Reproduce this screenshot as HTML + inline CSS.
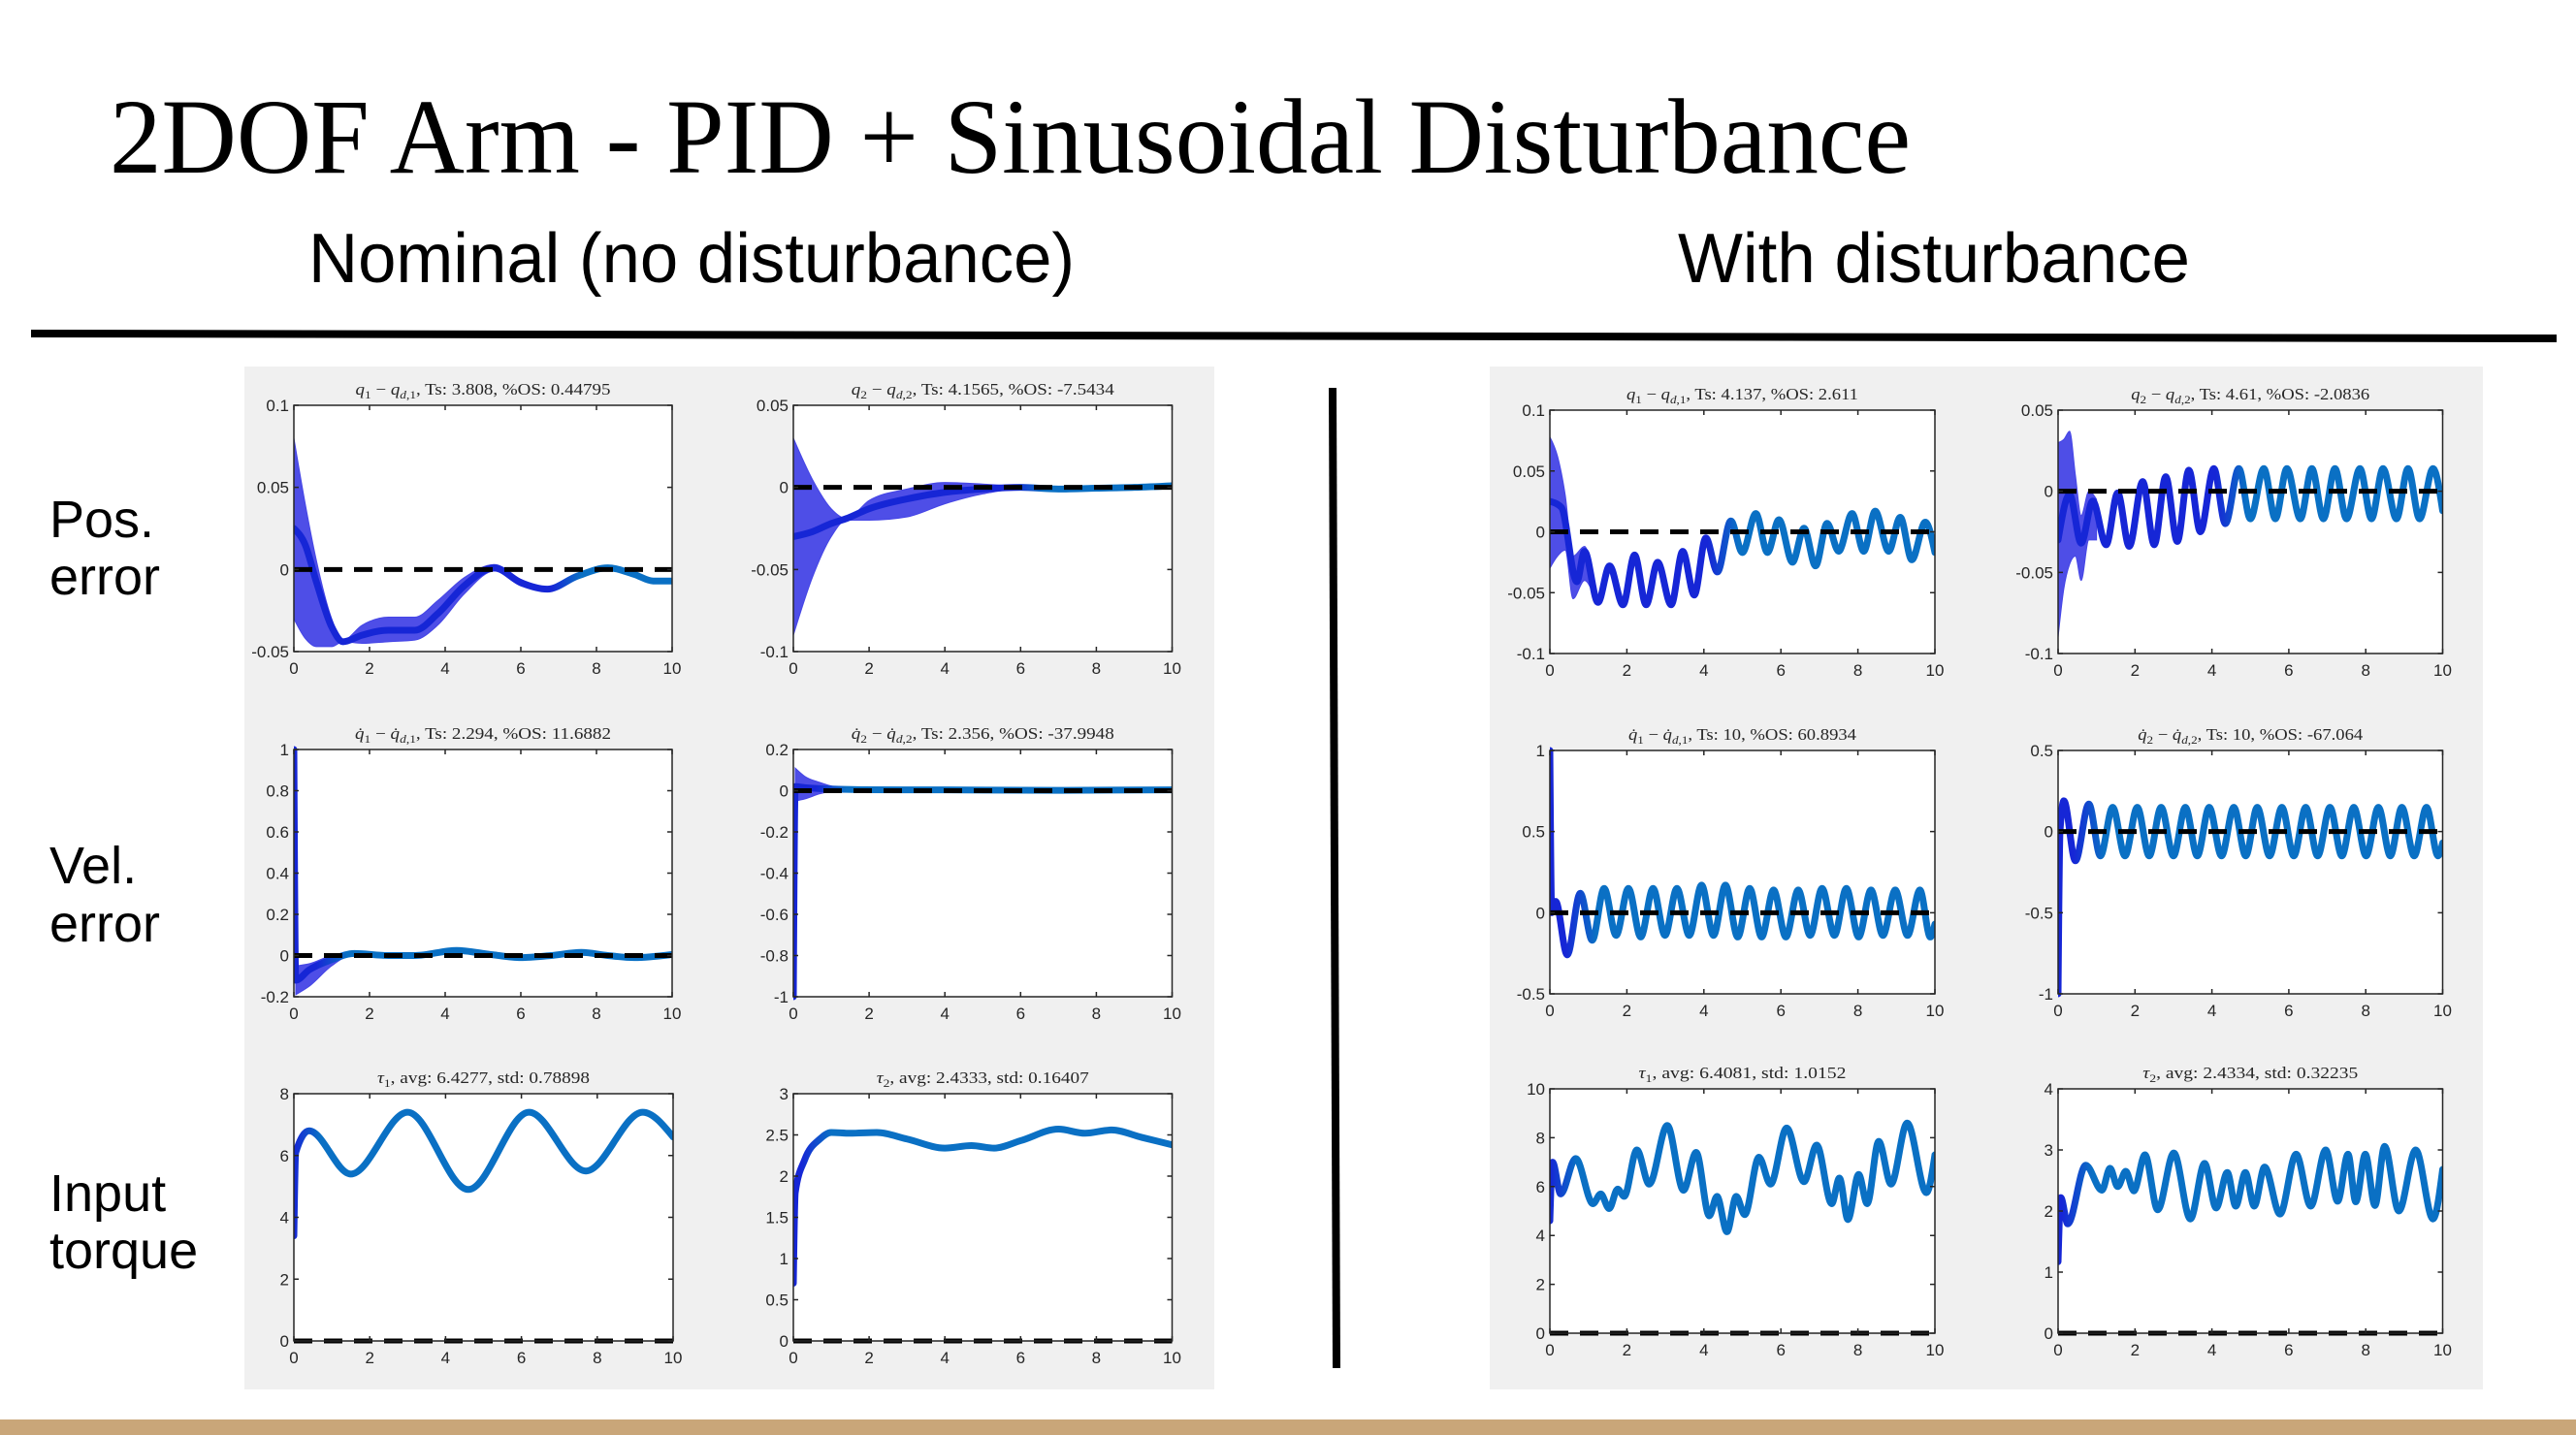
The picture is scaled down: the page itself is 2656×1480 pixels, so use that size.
<!DOCTYPE html>
<html><head><meta charset="utf-8">
<style>
html,body{margin:0;padding:0;background:#fff;}
svg{display:block;}
</style></head>
<body>
<svg id="page" width="2656" height="1480" viewBox="0 0 2656 1480">
  <rect x="0" y="0" width="2656" height="1480" fill="#ffffff"/>
  <text x="113" y="178" font-family="Liberation Serif, serif" font-size="110" fill="#000" textLength="1857" lengthAdjust="spacingAndGlyphs">2DOF Arm - PID + Sinusoidal Disturbance</text>
  <text x="318" y="291" font-family="Liberation Sans, sans-serif" font-size="72" fill="#000" textLength="790" lengthAdjust="spacingAndGlyphs">Nominal (no disturbance)</text>
  <text x="1730" y="291" font-family="Liberation Sans, sans-serif" font-size="72" fill="#000" textLength="528" lengthAdjust="spacingAndGlyphs">With disturbance</text>
  <polygon points="32,340 2636,345 2636,353 32,348" fill="#000"/>
  <polygon points="1370,400 1378,400 1382,1411 1374,1411" fill="#000"/>
  <rect x="0" y="1464" width="2656" height="16" fill="#c9a679"/>
  <g font-family="Liberation Sans, sans-serif" font-size="54" fill="#000">
    <text x="51" y="554">Pos.</text>
    <text x="51" y="613">error</text>
    <text x="51" y="911">Vel.</text>
    <text x="51" y="971">error</text>
    <text x="51" y="1249">Input</text>
    <text x="51" y="1308">torque</text>
  </g>
  <rect x="252" y="378" width="1000" height="1055" fill="#f0f0f0"/>
  <rect x="1536" y="378" width="1024" height="1055" fill="#f0f0f0"/>
  <defs id="defs"></defs>
  <g id="plots"></g>
</svg>
<script>
// ---------- data ----------
const posNom1_t = [0,0.3,0.6,1.0,1.3,1.8,2.5,3.2,3.8,4.5,5.3,6.0,6.7,7.5,8.3,9.0,9.5,10];
const posNom1_mean = [0.025,0.015,-0.008,-0.035,-0.044,-0.04,-0.037,-0.037,-0.027,-0.01,0.001,-0.008,-0.012,-0.004,0.001,-0.003,-0.007,-0.007];
const posNom1_upper = [0.08,0.04,0.005,-0.03,-0.043,-0.034,-0.029,-0.029,-0.019,-0.005,0.003,-0.006,-0.011,-0.003,0.002,-0.002,-0.006,-0.006];
const posNom1_lower = [-0.03,-0.042,-0.047,-0.047,-0.044,-0.045,-0.044,-0.043,-0.034,-0.015,-0.001,-0.01,-0.013,-0.005,0,-0.004,-0.008,-0.008];
const posNom2_t = [0,0.5,1.0,1.4,2,3,4,5,6,7,8,9,10];
const posNom2_mean = [-0.03,-0.027,-0.022,-0.019,-0.013,-0.007,-0.003,-0.001,0,-0.001,-0.0005,0,0.001];
const posNom2_upper = [0.03,0.005,-0.013,-0.019,-0.008,-0.001,0.003,0.002,0.0005,-0.0005,0,0.0005,0.0015];
const posNom2_lower = [-0.09,-0.055,-0.03,-0.02,-0.02,-0.018,-0.01,-0.004,-0.001,-0.002,-0.001,-0.0005,0.0005];
const velNom1_t = [0,0.05,0.4,1.0,1.6,2.5,3.2,4.3,5.2,6.0,6.8,7.6,8.3,9.0,10];
const velNom1_mean = [1.0,-0.12,-0.07,-0.02,0.01,0.0,0.0,0.025,0.005,-0.01,0.0,0.015,0.0,-0.01,0.005];
const velNom1_band_t = [0.05,0.4,1.0,1.5,2.0];
const velNom1_upper = [-0.05,-0.04,0.0,0.012,0.01];
const velNom1_lower = [-0.19,-0.15,-0.05,0.0,0.005];
const velNom2_t = [0,0.05,0.3,0.7,1.2,1.8,4,7,10];
const velNom2_mean = [-1,0.02,0.015,0.01,0.007,0.005,0.004,0.002,0.004];
const velNom2_band_t = [0.05,0.3,0.7,1.2,1.8];
const velNom2_upper = [0.11,0.07,0.04,0.015,0.008];
const velNom2_lower = [-0.05,-0.04,-0.015,0.0,0.004];
const tauNom1_t = [0,0.05,0.4,1.5,3.0,4.6,6.2,7.7,9.2,10];
const tauNom1_v = [3.4,6.1,6.8,5.4,7.4,4.9,7.4,5.5,7.4,6.6];
const tauNom2_t = [0,0.05,0.3,0.7,1.0,1.5,2.2,3,4,4.7,5.3,6,7.0,7.7,8.4,9.2,10];
const tauNom2_v = [0.7,1.8,2.2,2.45,2.53,2.52,2.53,2.45,2.34,2.37,2.34,2.43,2.57,2.52,2.56,2.47,2.38];
const posDist1_t = [0,0.3,0.7,0.9,1.25,1.55,1.9,2.2,2.5,2.8,3.15,3.45,3.75,4.05,4.35,4.7,5.0,5.35,5.65,5.95,6.3,6.6,6.9,7.2,7.5,7.85,8.15,8.45,8.8,9.1,9.4,9.75,10];
const posDist1_mean = [0.025,0.02,-0.041,-0.016,-0.058,-0.028,-0.06,-0.019,-0.06,-0.025,-0.06,-0.016,-0.052,-0.005,-0.033,0.009,-0.017,0.015,-0.017,0.01,-0.025,0.003,-0.028,0.007,-0.016,0.015,-0.016,0.017,-0.016,0.012,-0.023,0.008,-0.017];
const posDist1_band_t = [0,0.2,0.4,0.6,0.9,1.2];
const posDist1_upper = [0.078,0.062,0.03,-0.02,-0.012,-0.055];
const posDist1_lower = [-0.03,-0.02,-0.015,-0.055,-0.04,-0.058];
const posDist2_t = [0,0.3,0.6,0.9,1.25,1.55,1.85,2.2,2.5,2.8,3.1,3.4,3.7,4.05,4.35,4.7,5.0,5.35,5.65,5.95,6.3,6.6,6.9,7.2,7.5,7.85,8.15,8.45,8.8,9.1,9.4,9.75,10];
const posDist2_mean = [-0.03,-0.002,-0.032,-0.006,-0.033,-0.001,-0.034,0.006,-0.033,0.009,-0.031,0.013,-0.025,0.014,-0.02,0.014,-0.017,0.014,-0.017,0.014,-0.017,0.014,-0.017,0.014,-0.017,0.014,-0.017,0.014,-0.017,0.014,-0.017,0.014,-0.012];
const posDist2_band_t = [0,0.15,0.3,0.45,0.6,0.8,1.0];
const posDist2_upper = [0.03,0.032,0.037,0.01,-0.015,0.0,-0.005];
const posDist2_lower = [-0.09,-0.06,-0.045,-0.04,-0.055,-0.03,-0.03];
const velDist1_t = [0,0.05,0.15,0.45,0.79,1.1,1.41,1.72,2.04,2.36,2.68,2.99,3.3,3.62,3.94,4.25,4.56,4.88,5.19,5.5,5.81,6.13,6.45,6.76,7.07,7.39,7.7,8.02,8.34,8.65,8.97,9.29,9.61,9.88,10];
const velDist1_mean = [1.0,0.0,0.07,-0.26,0.12,-0.17,0.15,-0.14,0.15,-0.15,0.15,-0.14,0.15,-0.14,0.17,-0.14,0.17,-0.15,0.15,-0.15,0.14,-0.15,0.14,-0.14,0.15,-0.14,0.15,-0.15,0.14,-0.14,0.14,-0.14,0.14,-0.15,-0.07];
const velDist2_t = [0,0.05,0.15,0.45,0.8,1.1,1.42,1.74,2.06,2.37,2.68,3.0,3.31,3.62,3.93,4.25,4.57,4.88,5.18,5.5,5.82,6.13,6.44,6.75,7.07,7.38,7.69,8.01,8.33,8.64,8.94,9.26,9.58,9.88,10];
const velDist2_mean = [-1,0.0,0.19,-0.18,0.17,-0.15,0.15,-0.15,0.15,-0.15,0.15,-0.15,0.15,-0.15,0.15,-0.15,0.15,-0.15,0.15,-0.15,0.15,-0.15,0.15,-0.15,0.15,-0.15,0.15,-0.15,0.15,-0.15,0.15,-0.15,0.15,-0.15,-0.07];
const tauDist1_t = [0,0.07,0.28,0.67,1.12,1.32,1.54,1.76,1.93,2.26,2.58,3.05,3.47,3.8,4.14,4.34,4.6,4.84,5.06,5.43,5.73,6.15,6.6,6.93,7.32,7.52,7.74,8.02,8.24,8.54,8.86,9.28,9.78,10];
const tauDist1_v = [4.6,7.0,5.7,7.15,5.3,5.7,5.1,5.9,5.6,7.5,6.1,8.5,5.85,7.4,4.8,5.6,4.15,5.6,4.85,7.2,6.1,8.4,6.2,7.7,5.3,6.35,4.65,6.5,5.3,7.85,6.1,8.6,5.75,7.3];
const tauDist2_t = [0,0.07,0.25,0.72,1.14,1.35,1.55,1.76,1.97,2.26,2.59,3.01,3.44,3.81,4.11,4.4,4.62,4.87,5.1,5.37,5.77,6.19,6.57,6.96,7.27,7.54,7.74,7.99,8.24,8.49,8.86,9.3,9.75,10];
const tauDist2_v = [1.17,2.22,1.79,2.75,2.34,2.7,2.4,2.65,2.33,2.92,2.02,2.95,1.87,2.78,2.05,2.63,2.08,2.63,2.08,2.72,1.95,2.93,2.08,3.0,2.16,2.93,2.15,2.93,2.09,3.06,2.0,3.0,1.87,2.68];
const xTicks = [0,2,4,6,8,10];
const yTicksPosNom1 = [-0.05,0,0.05,0.1];
const yTicksPosNom2 = [-0.1,-0.05,0,0.05];
const yTicksVelNom1 = [-0.2,0,0.2,0.4,0.6,0.8,1];
const yTicksVelNom2 = [-1,-0.8,-0.6,-0.4,-0.2,0,0.2];
const yTicksTauNom1 = [0,2,4,6,8];
const yTicksTauNom2 = [0,0.5,1,1.5,2,2.5,3];
const yTicksPosDist1 = [-0.1,-0.05,0,0.05,0.1];
const yTicksPosDist2 = [-0.1,-0.05,0,0.05];
const yTicksVelDist1 = [-0.5,0,0.5,1];
const yTicksVelDist2 = [-1,-0.5,0,0.5];
const yTicksTauDist1 = [0,2,4,6,8,10];
const yTicksTauDist2 = [0,1,2,3,4];

const QD = 'q\u0307';
const plots = [
 {name:'pos-error-joint1-nominal', box:[303,418,693,672], yr:[-0.05,0.1], yt:yTicksPosNom1, t:posNom1_t, v:posNom1_mean, bt:posNom1_t, bu:posNom1_upper, bl:posNom1_lower, g:0.72, tl:263,
  title:[['q','i'],['1','s'],[' \u2212 ',''],['q','i'],['d','si'],[',1','s'],[', Ts: 3.808, %OS: 0.44795','']]},
 {name:'pos-error-joint2-nominal', box:[818,418,1208.5,672], yr:[-0.1,0.05], yt:yTicksPosNom2, t:posNom2_t, v:posNom2_mean, bt:posNom2_t, bu:posNom2_upper, bl:posNom2_lower, g:0.62, tl:271,
  title:[['q','i'],['2','s'],[' \u2212 ',''],['q','i'],['d','si'],[',2','s'],[', Ts: 4.1565, %OS: -7.5434','']]},
 {name:'vel-error-joint1-nominal', box:[303,773,693,1028], yr:[-0.2,1], yt:yTicksVelNom1, t:velNom1_t, v:velNom1_mean, bt:velNom1_band_t, bu:velNom1_upper, bl:velNom1_lower, g:0.1, tl:264,
  title:[[QD,'i'],['1','s'],[' \u2212 ',''],[QD,'i'],['d','si'],[',1','s'],[', Ts: 2.294, %OS: 11.6882','']]},
 {name:'vel-error-joint2-nominal', box:[818,773,1208.5,1028], yr:[-1,0.2], yt:yTicksVelNom2, t:velNom2_t, v:velNom2_mean, bt:velNom2_band_t, bu:velNom2_upper, bl:velNom2_lower, g:0.1, tl:271,
  title:[[QD,'i'],['2','s'],[' \u2212 ',''],[QD,'i'],['d','si'],[',2','s'],[', Ts: 2.356, %OS: -37.9948','']]},
 {name:'torque-joint1-nominal', box:[303,1128,694,1383], yr:[0,8], yt:yTicksTauNom1, t:tauNom1_t, v:tauNom1_v, g:0.03, tl:219,
  title:[['\u03c4','i'],['1','s'],[', avg: 6.4277, std: 0.78898','']]},
 {name:'torque-joint2-nominal', box:[818,1128,1208.5,1383], yr:[0,3], yt:yTicksTauNom2, t:tauNom2_t, v:tauNom2_v, g:0.06, tl:219,
  title:[['\u03c4','i'],['2','s'],[', avg: 2.4333, std: 0.16407','']]},
 {name:'pos-error-joint1-disturbed', box:[1598,423,1995,674], yr:[-0.1,0.1], yt:yTicksPosDist1, t:posDist1_t, v:posDist1_mean, bt:posDist1_band_t, bu:posDist1_upper, bl:posDist1_lower, g:0.45, tl:239,
  title:[['q','i'],['1','s'],[' \u2212 ',''],['q','i'],['d','si'],[',1','s'],[', Ts: 4.137, %OS: 2.611','']]},
 {name:'pos-error-joint2-disturbed', box:[2122,423,2518.5,674], yr:[-0.1,0.05], yt:yTicksPosDist2, t:posDist2_t, v:posDist2_mean, bt:posDist2_band_t, bu:posDist2_upper, bl:posDist2_lower, g:0.45, tl:246,
  title:[['q','i'],['2','s'],[' \u2212 ',''],['q','i'],['d','si'],[',2','s'],[', Ts: 4.61, %OS: -2.0836','']]},
 {name:'vel-error-joint1-disturbed', box:[1598,774,1995,1025], yr:[-0.5,1], yt:yTicksVelDist1, t:velDist1_t, v:velDist1_mean, g:0.08, tl:235,
  title:[[QD,'i'],['1','s'],[' \u2212 ',''],[QD,'i'],['d','si'],[',1','s'],[', Ts: 10, %OS: 60.8934','']]},
 {name:'vel-error-joint2-disturbed', box:[2122,774,2518.5,1025], yr:[-1,0.5], yt:yTicksVelDist2, t:velDist2_t, v:velDist2_mean, g:0.08, tl:232,
  title:[[QD,'i'],['2','s'],[' \u2212 ',''],[QD,'i'],['d','si'],[',2','s'],[', Ts: 10, %OS: -67.064','']]},
 {name:'torque-joint1-disturbed', box:[1598,1123,1995,1375], yr:[0,10], yt:yTicksTauDist1, t:tauDist1_t, v:tauDist1_v, g:0.03, tl:214,
  title:[['\u03c4','i'],['1','s'],[', avg: 6.4081, std: 1.0152','']]},
 {name:'torque-joint2-disturbed', box:[2122,1123,2518.5,1375], yr:[0,4], yt:yTicksTauDist2, t:tauDist2_t, v:tauDist2_v, g:0.05, tl:222,
  title:[['\u03c4','i'],['2','s'],[', avg: 2.4334, std: 0.32235','']]}
];

const svg = document.getElementById('page');
const NS = svg.namespaceURI;
const defs = document.getElementById('defs');
const root = document.getElementById('plots');
function mk(parent, tag, attrs){
  const e = document.createElementNS(NS, tag);
  for (const k in attrs) e.setAttribute(k, attrs[k]);
  parent.appendChild(e);
  return e;
}
function monoPath(xs, ys){
  const n = xs.length;
  if (n < 2) return '';
  const tg = new Array(n);
  const sl = [];
  for (let i=0;i<n-1;i++) sl.push((ys[i+1]-ys[i])/((xs[i+1]-xs[i])||1e-6));
  for (let i=1;i<n-1;i++){
    const h0 = xs[i]-xs[i-1], h1 = xs[i+1]-xs[i];
    const s0 = sl[i-1], s1 = sl[i];
    const p = (s0*h1 + s1*h0)/(h0+h1);
    tg[i] = (Math.sign(s0)+Math.sign(s1))*Math.min(Math.abs(s0),Math.abs(s1),0.5*Math.abs(p));
  }
  tg[0] = n>2 ? (3*sl[0]-tg[1])/2 : sl[0];
  tg[n-1] = n>2 ? (3*sl[n-2]-tg[n-2])/2 : sl[0];
  let d = 'M'+xs[0].toFixed(2)+','+ys[0].toFixed(2);
  for (let i=0;i<n-1;i++){
    const dx = (xs[i+1]-xs[i])/3;
    d += ' C'+(xs[i]+dx).toFixed(2)+','+(ys[i]+dx*tg[i]).toFixed(2)+' '+(xs[i+1]-dx).toFixed(2)+','+(ys[i+1]-dx*tg[i+1]).toFixed(2)+' '+xs[i+1].toFixed(2)+','+ys[i+1].toFixed(2);
  }
  return d;
}

plots.forEach((p, idx) => {
  const [x0,y0,x1,y1] = p.box;
  const xS = t => x0 + (t-0)/(10-0)*(x1-x0);
  const yS = v => y1 - (v-p.yr[0])/(p.yr[1]-p.yr[0])*(y1-y0);
  const g = mk(root, 'g', {});
  
  

  const clip = mk(defs, 'clipPath', {id:'clip'+idx});
  mk(clip, 'rect', {x:x0, y:y0-4, width:x1-x0, height:y1-y0+8});
  const grad = mk(defs, 'linearGradient', {id:'grad'+idx, gradientUnits:'userSpaceOnUse', x1:x0, y1:0, x2:x1, y2:0});
  mk(grad, 'stop', {offset:Math.max(0,p.g-0.04), 'stop-color':'#1626d6'});
  mk(grad, 'stop', {offset:Math.min(1,p.g+0.04), 'stop-color':'#0a70c4'});

  const bg = mk(g, 'rect', {x:x0, y:y0, width:x1-x0, height:y1-y0, fill:'#ffffff'});
  
  

  const data = mk(g, 'g', {'clip-path':'url(#clip'+idx+')'});
  
  

  if (p.bt){
    const ux = p.bt.map(xS), uy = p.bu.map(yS);
    const lx = p.bt.map(xS).reverse(), ly = p.bl.map(yS).reverse();
    const up = monoPath(ux, uy);
    const lo = monoPath(lx, ly).replace(/^M/, 'L');
    const band = mk(data, 'path', {d: up+' '+lo+' Z', fill:'#4545e6', 'fill-opacity':'0.95', stroke:'#4545e6', 'stroke-width':'1'});
    
    
  }
  const line = mk(data, 'path', {d: monoPath(p.t.map(xS), p.v.map(yS)), fill:'none', stroke:'url(#grad'+idx+')', 'stroke-width':'7', 'stroke-linejoin':'round', 'stroke-linecap':'round'});
  
  

  const zero = mk(g, 'line', {x1:x0, x2:x1, y1:yS(0), y2:yS(0), stroke:'#000', 'stroke-width':'5', 'stroke-dasharray':'19 12'});
  
  

  const frame = mk(g, 'rect', {x:x0, y:y0, width:x1-x0, height:y1-y0, fill:'none', stroke:'#262626', 'stroke-width':'1.5'});
  
  

  const xa = mk(g, 'g', {'font-family':'Liberation Sans, sans-serif', 'font-size':'17', fill:'#262626', 'text-anchor':'middle'});
  
  
  xTicks.forEach(t => {
    const tk = mk(xa, 'path', {d:'M'+xS(t)+','+y1+'v-5M'+xS(t)+','+y0+'v5', stroke:'#262626', 'stroke-width':'1.5'});
    
    
    const lb = mk(xa, 'text', {x:xS(t), y:y1+23});
    
    
    lb.textContent = String(t);
  });
  const ya = mk(g, 'g', {'font-family':'Liberation Sans, sans-serif', 'font-size':'17', fill:'#262626', 'text-anchor':'end'});
  
  
  p.yt.forEach(v => {
    const tk = mk(ya, 'path', {d:'M'+x0+','+yS(v)+'h5M'+x1+','+yS(v)+'h-5', stroke:'#262626', 'stroke-width':'1.5'});
    
    
    const lb = mk(ya, 'text', {x:x0-5, y:yS(v)+6});
    
    
    lb.textContent = String(v);
  });

  const tt = mk(g, 'text', {x:(x0+x1)/2, y:y0-11, 'font-family':'Liberation Serif, serif', 'font-size':'17', fill:'#262626', 'text-anchor':'middle', textLength:p.tl, lengthAdjust:'spacingAndGlyphs'});
  
  
  let sub = false;
  p.title.forEach(([txt, st]) => {
    const isSub = st.indexOf('s') === 0;
    const a = {};
    if (isSub && !sub) a.dy = '4';
    if (!isSub && sub) a.dy = '-4';
    if (isSub) a['font-size'] = '12';
    if (st.indexOf('i') >= 0) a['font-style'] = 'italic';
    const ts = mk(tt, 'tspan', a);
    ts.textContent = txt;
    sub = isSub;
  });
});
</script>
</body></html>
